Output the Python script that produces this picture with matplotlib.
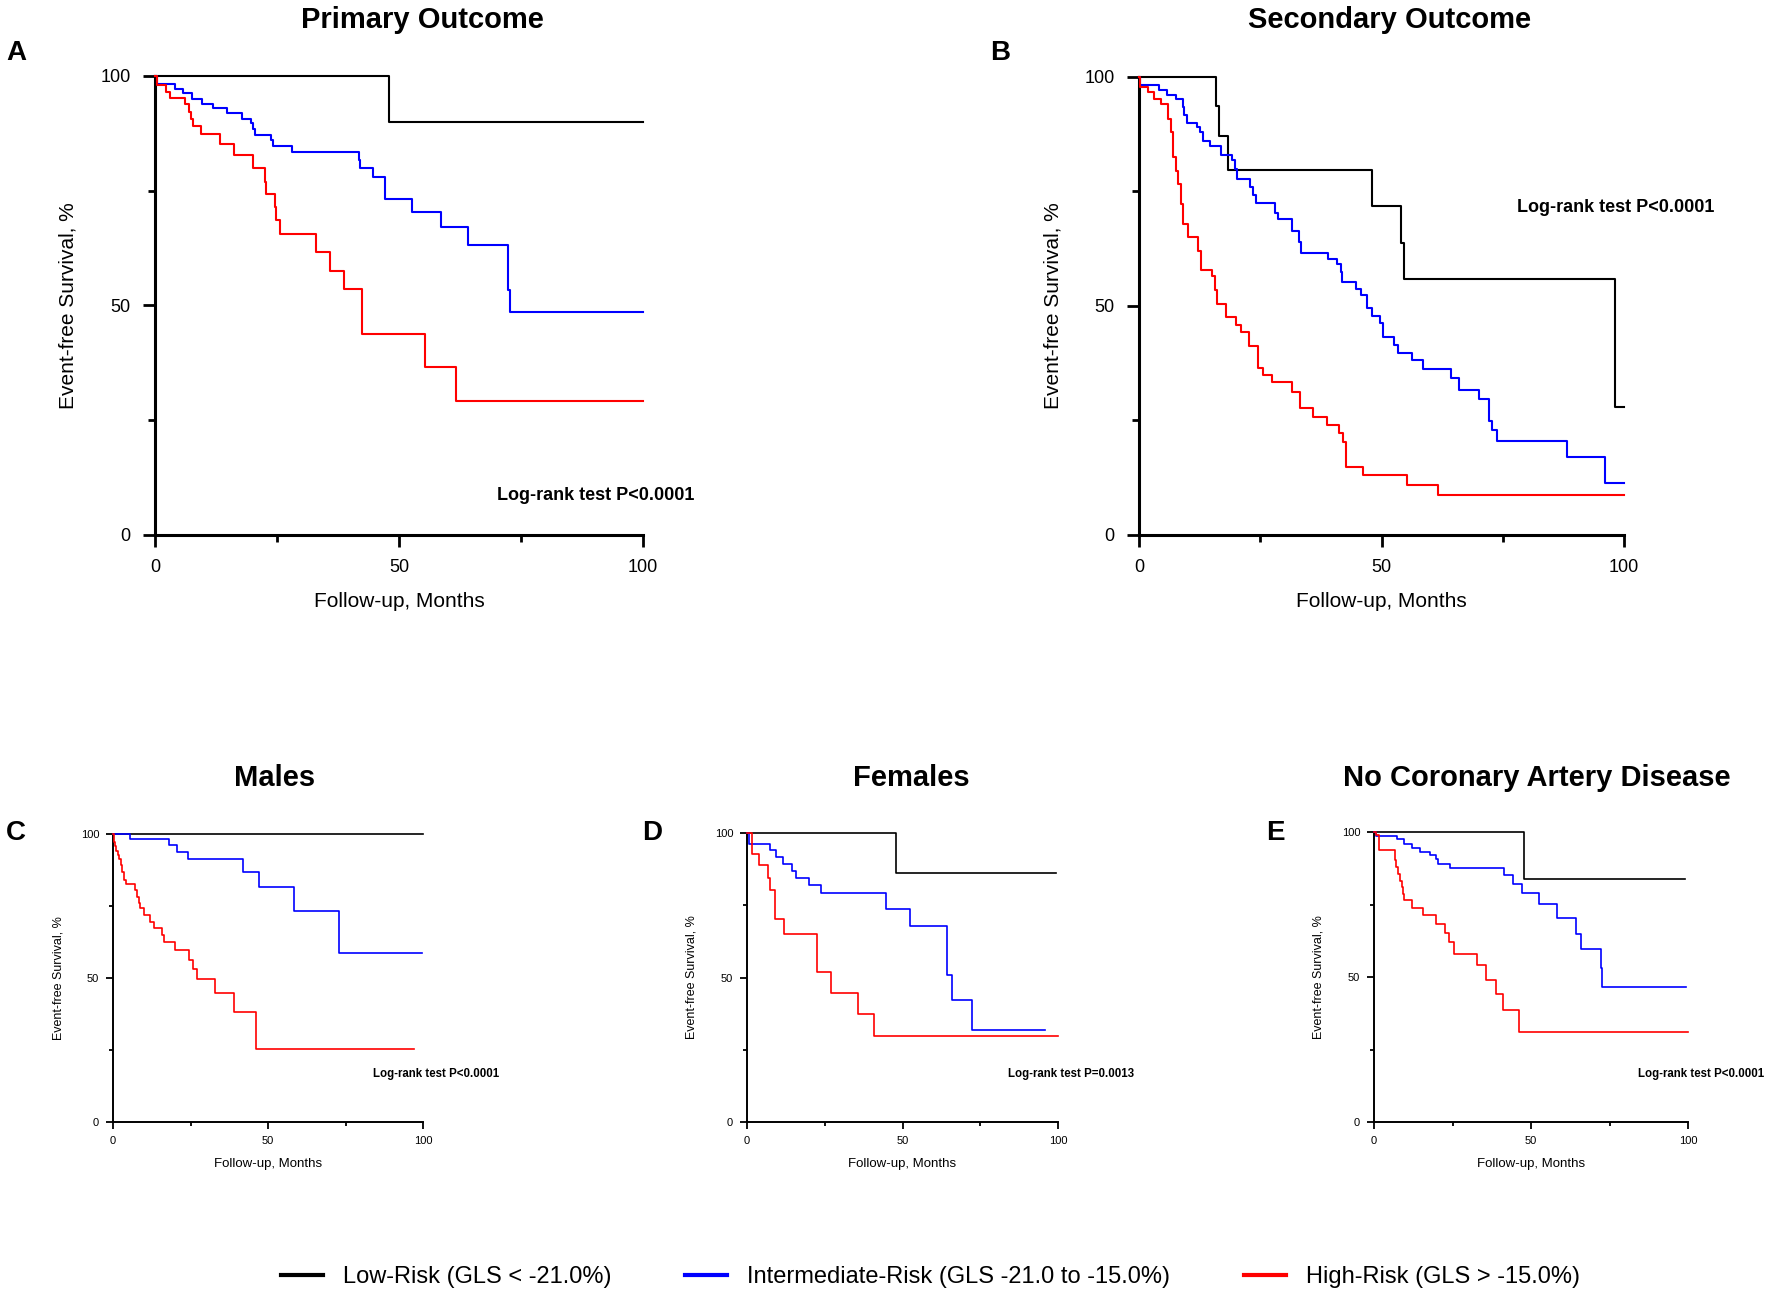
import matplotlib
matplotlib.use('Agg')
import matplotlib.pyplot as plt
from matplotlib.lines import Line2D

plt.rcParams['font.family'] = ['Liberation Sans', 'DejaVu Sans']

# ---- data: (time in months, event-free survival %) ----
# A: primary outcome
a_low_t = [0, 48, 100]
a_low_s = [100, 90, 90]
a_int_t = [0, 0.5, 4.2, 5.8, 7.6, 9.6, 11.8, 14.8, 17.9, 19.7, 20.1, 20.5, 23.8, 24.1, 28.1,
           41.8, 42.0, 44.7, 47.1, 52.7, 58.6, 64.2, 72.3, 72.4, 72.7, 100]
a_int_s = [100, 98.2, 97.1, 96.2, 95.0, 94.0, 93.0, 91.9, 90.6, 89.7, 88.4, 87.1, 86.1, 84.7, 83.5,
           81.7, 79.9, 77.9, 73.3, 70.4, 67.0, 63.1, 58.1, 53.4, 48.5, 48.5]
a_high_t = [0, 0.5, 2.3, 3.1, 6.1, 7.0, 7.3, 7.8, 9.4, 13.3, 16.2, 20.1, 22.6, 22.7, 24.6, 24.8,
            25.6, 33.0, 35.8, 38.8, 42.4, 42.5, 55.4, 61.6, 100]
a_high_s = [100, 98.0, 96.6, 95.3, 94.0, 92.2, 90.6, 89.1, 87.3, 85.2, 82.7, 80.0, 77.0, 74.3, 71.5, 68.6,
            65.6, 61.7, 57.6, 53.5, 48.7, 43.8, 36.5, 29.2, 29.2]

# B: secondary outcome
b_low_t = [0, 15.9, 16.4, 18.4, 48.1, 54.0, 54.6, 98.1, 100]
b_low_s = [100, 93.7, 87.1, 79.8, 71.8, 63.8, 55.9, 28.0, 28.0]
b_int_t = [0, 0.3, 4.1, 5.7, 7.6, 9.0, 9.3, 9.8, 11.9, 12.6, 13.1, 14.6, 17.0, 19.1, 19.8, 20.3,
           22.9, 23.6, 24.1, 28.0, 28.7, 31.6, 33.0, 33.5, 39.0, 40.8, 41.6, 41.8, 44.7, 45.7, 47.1,
           48.1, 49.7, 50.4, 52.6, 53.5, 56.2, 58.6, 64.3, 66.0, 70.2, 72.2, 72.7, 73.9, 88.2, 96.1, 100]
b_int_s = [100, 98.2, 97.1, 96.1, 95.1, 93.5, 91.6, 90.0, 89.1, 88.0, 86.0, 84.9, 82.9, 81.8, 80.0, 77.7,
           75.9, 74.2, 72.4, 70.2, 68.9, 66.4, 64.0, 61.6, 60.2, 59.1, 57.5, 55.3, 53.8, 52.4, 49.5,
           47.8, 46.2, 43.3, 41.5, 39.7, 38.2, 36.2, 34.2, 31.6, 29.6, 24.9, 22.9, 20.6, 17.1, 11.4, 11.4]
b_high_t = [0, 0.3, 1.9, 3.0, 4.5, 6.0, 6.7, 7.1, 7.6, 8.1, 8.7, 9.1, 10.0, 12.1, 12.8, 15.0, 15.7,
            16.0, 17.9, 20.1, 21.0, 22.6, 24.6, 25.6, 27.5, 31.6, 33.2, 35.8, 38.8, 41.3, 42.0, 42.6,
            46.1, 55.3, 61.7, 100]
b_high_s = [100, 97.8, 96.7, 95.3, 94.0, 90.9, 88.0, 82.5, 79.5, 76.6, 72.2, 68.0, 65.1, 62.0, 57.9, 56.5, 53.5,
            50.5, 47.6, 45.8, 44.4, 41.3, 36.4, 34.9, 33.3, 31.3, 27.8, 25.8, 24.1, 22.2, 20.4, 14.9,
            13.1, 10.9, 8.7, 8.7]

# C: males
c_low_t = [0, 100]
c_low_s = [100, 100]
c_int_t = [0, 5.6, 18.0, 20.6, 24.2, 41.9, 47.1, 58.4, 72.8, 99.7]
c_int_s = [100, 98.3, 96.1, 93.7, 91.4, 86.9, 81.5, 73.3, 58.7, 58.7]
c_high_t = [0, 0.2, 0.4, 0.8, 1.1, 1.5, 2.0, 2.6, 2.9, 3.4, 4.2, 7.1, 7.7, 8.3, 8.8, 9.9, 12.0, 13.1,
            15.8, 16.3, 20.1, 24.4, 25.7, 27.1, 33.0, 38.9, 46.2, 97.0]
c_high_s = [100, 98.8, 97.3, 95.8, 94.2, 92.7, 91.2, 89.2, 86.9, 84.2, 82.6, 80.5, 78.2, 75.9, 74.2, 71.8, 69.5, 67.2,
            64.9, 62.6, 59.7, 56.2, 53.1, 49.7, 44.8, 38.2, 25.5, 25.5]

# D: females
d_low_t = [0, 48.0, 99.2]
d_low_s = [100, 86, 86]
d_int_t = [0, 0.5, 7.5, 9.4, 11.6, 14.6, 15.9, 19.8, 23.9, 44.6, 52.5, 64.3, 65.9, 72.5, 95.9]
d_int_s = [100, 96.1, 94.0, 91.7, 89.4, 86.9, 84.4, 81.9, 79.2, 73.8, 67.7, 50.7, 42.3, 31.7, 31.7]
d_high_t = [0, 1.7, 3.9, 6.8, 7.3, 9.1, 11.8, 22.5, 22.6, 26.9, 35.8, 40.9, 100]
d_high_s = [100, 92.8, 89.0, 84.5, 80.2, 70.1, 65.2, 58.5, 52.0, 44.6, 37.5, 29.8, 29.8]

# E: no coronary artery disease
e_low_t = [0, 47.8, 98.9]
e_low_s = [100, 83.7, 83.7]
e_int_t = [0, 0.5, 7.4, 9.7, 12.0, 14.6, 17.8, 19.7, 20.5, 24.2, 41.5, 44.3, 47.0, 52.6, 58.3,
           64.3, 65.8, 72.2, 72.6, 99.5]
e_int_s = [100, 98.5, 97.5, 96.0, 94.6, 93.1, 92.0, 90.6, 89.1, 87.6, 85.1, 82.2, 79.1, 75.3, 70.5,
           64.9, 59.8, 53.1, 46.6, 46.6]
e_high_t = [0, 0.5, 1.7, 6.7, 7.0, 7.5, 8.3, 8.8, 9.1, 9.6, 12.0, 15.5, 19.9, 22.6, 24.0, 25.5,
            32.9, 35.7, 38.7, 41.0, 46.1, 100]
e_high_s = [100, 98.9, 93.9, 90.2, 87.9, 85.6, 83.1, 81.0, 78.5, 76.4, 73.9, 71.3, 68.4, 65.2, 62.1, 58.0,
            54.3, 49.1, 44.3, 38.7, 31.0, 31.0]

titles = ['Primary Outcome', 'Secondary Outcome', 'Males', 'Females', 'No Coronary Artery Disease']
letters = ['A', 'B', 'C', 'D', 'E']
pvals = ['Log-rank test P<0.0001', 'Log-rank test P<0.0001', 'Log-rank test P<0.0001',
         'Log-rank test P=0.0013', 'Log-rank test P<0.0001']
legend_labels = ['Low-Risk (GLS < -21.0%)', 'Intermediate-Risk (GLS -21.0 to -15.0%)',
                 'High-Risk (GLS > -15.0%)']
colors = ['#000000', '#0000ff', '#ff0000']

curves = [
    [(a_low_t, a_low_s), (a_int_t, a_int_s), (a_high_t, a_high_s)],
    [(b_low_t, b_low_s), (b_int_t, b_int_s), (b_high_t, b_high_s)],
    [(c_low_t, c_low_s), (c_int_t, c_int_s), (c_high_t, c_high_s)],
    [(d_low_t, d_low_s), (d_int_t, d_int_s), (d_high_t, d_high_s)],
    [(e_low_t, e_low_s), (e_int_t, e_int_s), (e_high_t, e_high_s)],
]

W, H = 1772, 1299
fig = plt.figure(figsize=(W / 100, H / 100), dpi=100)

# axes boxes in pixels: left, top, right, bottom
boxes = [(155, 76, 643, 535), (1139, 77, 1624, 535),
         (113, 834, 423, 1122), (747, 833, 1058, 1122), (1374, 832, 1688, 1122)]
title_pos = [(422, 20), (1390, 20), (275, 778), (911, 778), (1537, 778)]
letter_pos = [(16, 53), (1000, 53), (16, 833), (652, 833), (1275, 833)]
ptext_pos = [(70, 8.7), (78, 71.4), (84, 16.6), (84, 16.6), (84, 16.6)]

for i in range(5):
    l, t, r, b = boxes[i]
    ax = fig.add_axes([l / W, 1 - b / H, (r - l) / W, (b - t) / H])
    big = i < 2
    lw = 1.5 if big else 1.2
    for (tt, ss), col in zip(curves[i], colors):
        ax.step(tt, ss, where='post', color=col, lw=lw, clip_on=False, zorder=3)
    ax.set_xlim(0, 100)
    ax.set_ylim(0, 100)
    ax.spines['top'].set_visible(False)
    ax.spines['right'].set_visible(False)
    ax.spines['left'].set_linewidth(2.2 if big else 1.4)
    ax.spines['bottom'].set_linewidth(2.2 if big else 1.4)
    ax.set_xticks([0, 50, 100])
    ax.set_yticks([0, 50, 100])
    ax.set_xticks([25, 75], minor=True)
    ax.set_yticks([25, 75], minor=True)
    fs_tick = 13 if big else 8
    ax.tick_params(which='major', length=8.5 if big else 5, width=2 if big else 1.3,
                   labelsize=fs_tick, pad=9 if big else 5)
    ax.tick_params(which='minor', length=5 if big else 3, width=2 if big else 1.3)
    ax.set_ylabel('Event-free Survival, %', fontsize=15 if big else 9)
    ax.set_xlabel('Follow-up, Months', fontsize=15 if big else 9.5)
    ax.yaxis.set_label_coords(-0.158, 0.5)
    ax.xaxis.set_label_coords(0.5, -0.125)
    px, py = ptext_pos[i]
    ax.text(px, py, pvals[i], fontsize=13 if big else 8.3, fontweight='bold',
            ha='left', va='center')
    tx, ty = title_pos[i]
    fig.text(tx / W, 1 - ty / H, titles[i], fontsize=21, fontweight='bold',
             ha='center', va='center')
    lx, ly = letter_pos[i]
    fig.text(lx / W, 1 - ly / H, letters[i], fontsize=20, fontweight='bold',
             ha='center', va='center')

handles = [Line2D([0], [0], color=c, lw=3) for c in colors]
fig.legend(handles, legend_labels, loc='center', bbox_to_anchor=(0.525, 1 - 1277 / H),
           ncol=3, frameon=False, fontsize=17, handlelength=1.8, handletextpad=0.85,
           columnspacing=3.1)

fig.savefig('out.png', dpi=100)
